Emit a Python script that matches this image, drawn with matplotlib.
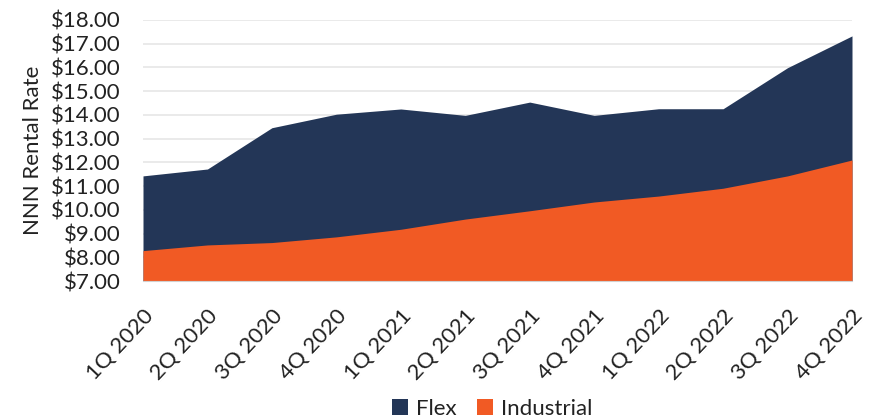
import matplotlib
matplotlib.use("Agg")
import matplotlib.pyplot as plt
from matplotlib.ticker import FuncFormatter, MultipleLocator
from matplotlib.patches import Patch

quarters = ["1Q 2020", "2Q 2020", "3Q 2020", "4Q 2020", "1Q 2021", "2Q 2021",
            "3Q 2021", "4Q 2021", "1Q 2022", "2Q 2022", "3Q 2022", "4Q 2022"]
flex = [11.43, 11.72, 13.46, 14.03, 14.25, 13.98, 14.54, 13.98, 14.26, 14.26, 15.99, 17.33]
industrial = [8.28, 8.52, 8.62, 8.86, 9.18, 9.61, 9.96, 10.33, 10.58, 10.91, 11.43, 12.10]

navy = "#233657"
orange = "#F15A24"
txt = "#222222"
fs = 16

plt.rcParams['font.family'] = ['Lato', 'DejaVu Sans']

fig = plt.figure(figsize=(8.71, 4.19), dpi=100)
ax = fig.add_axes([143/871, 1 - 281/419, (852-143)/871, (281-20)/419])

x = list(range(len(quarters)))
ax.fill_between(x, 7, flex, color=navy, linewidth=0, zorder=2)
ax.fill_between(x, 7, industrial, color=orange, linewidth=0, zorder=3)

ax.set_xlim(0, len(quarters) - 1)
ax.set_ylim(7, 18)
ax.yaxis.set_major_locator(MultipleLocator(1))
ax.yaxis.set_major_formatter(FuncFormatter(lambda v, p: f"${v:.2f}"))
ax.grid(axis='y', color='#e6e6e6', linewidth=1.2, zorder=0)
ax.set_axisbelow(True)
for s in ['top', 'right', 'left']:
    ax.spines[s].set_visible(False)
ax.spines['bottom'].set_color('#d0d0d0')
ax.spines['bottom'].set_zorder(5)

ax.set_xticks(x)
ax.set_xticklabels(quarters, rotation=47, ha='right', rotation_mode='anchor', fontsize=fs, color=txt)
ax.tick_params(axis='x', length=0, pad=18)
ax.tick_params(axis='y', length=0, pad=16, labelsize=fs, labelcolor=txt)
ax.set_ylabel("NNN Rental Rate", fontsize=fs, color=txt, labelpad=6)

handles = [Patch(facecolor=navy, label='Flex'), Patch(facecolor=orange, label='Industrial')]
fig.legend(handles=handles, loc='lower center', bbox_to_anchor=(0.565, -0.047), ncol=2, frameon=False,
           fontsize=fs, handlelength=0.75, handleheight=0.75, handletextpad=0.35, columnspacing=0.9,
           labelcolor=txt)

fig.savefig("out.png", dpi=100)
